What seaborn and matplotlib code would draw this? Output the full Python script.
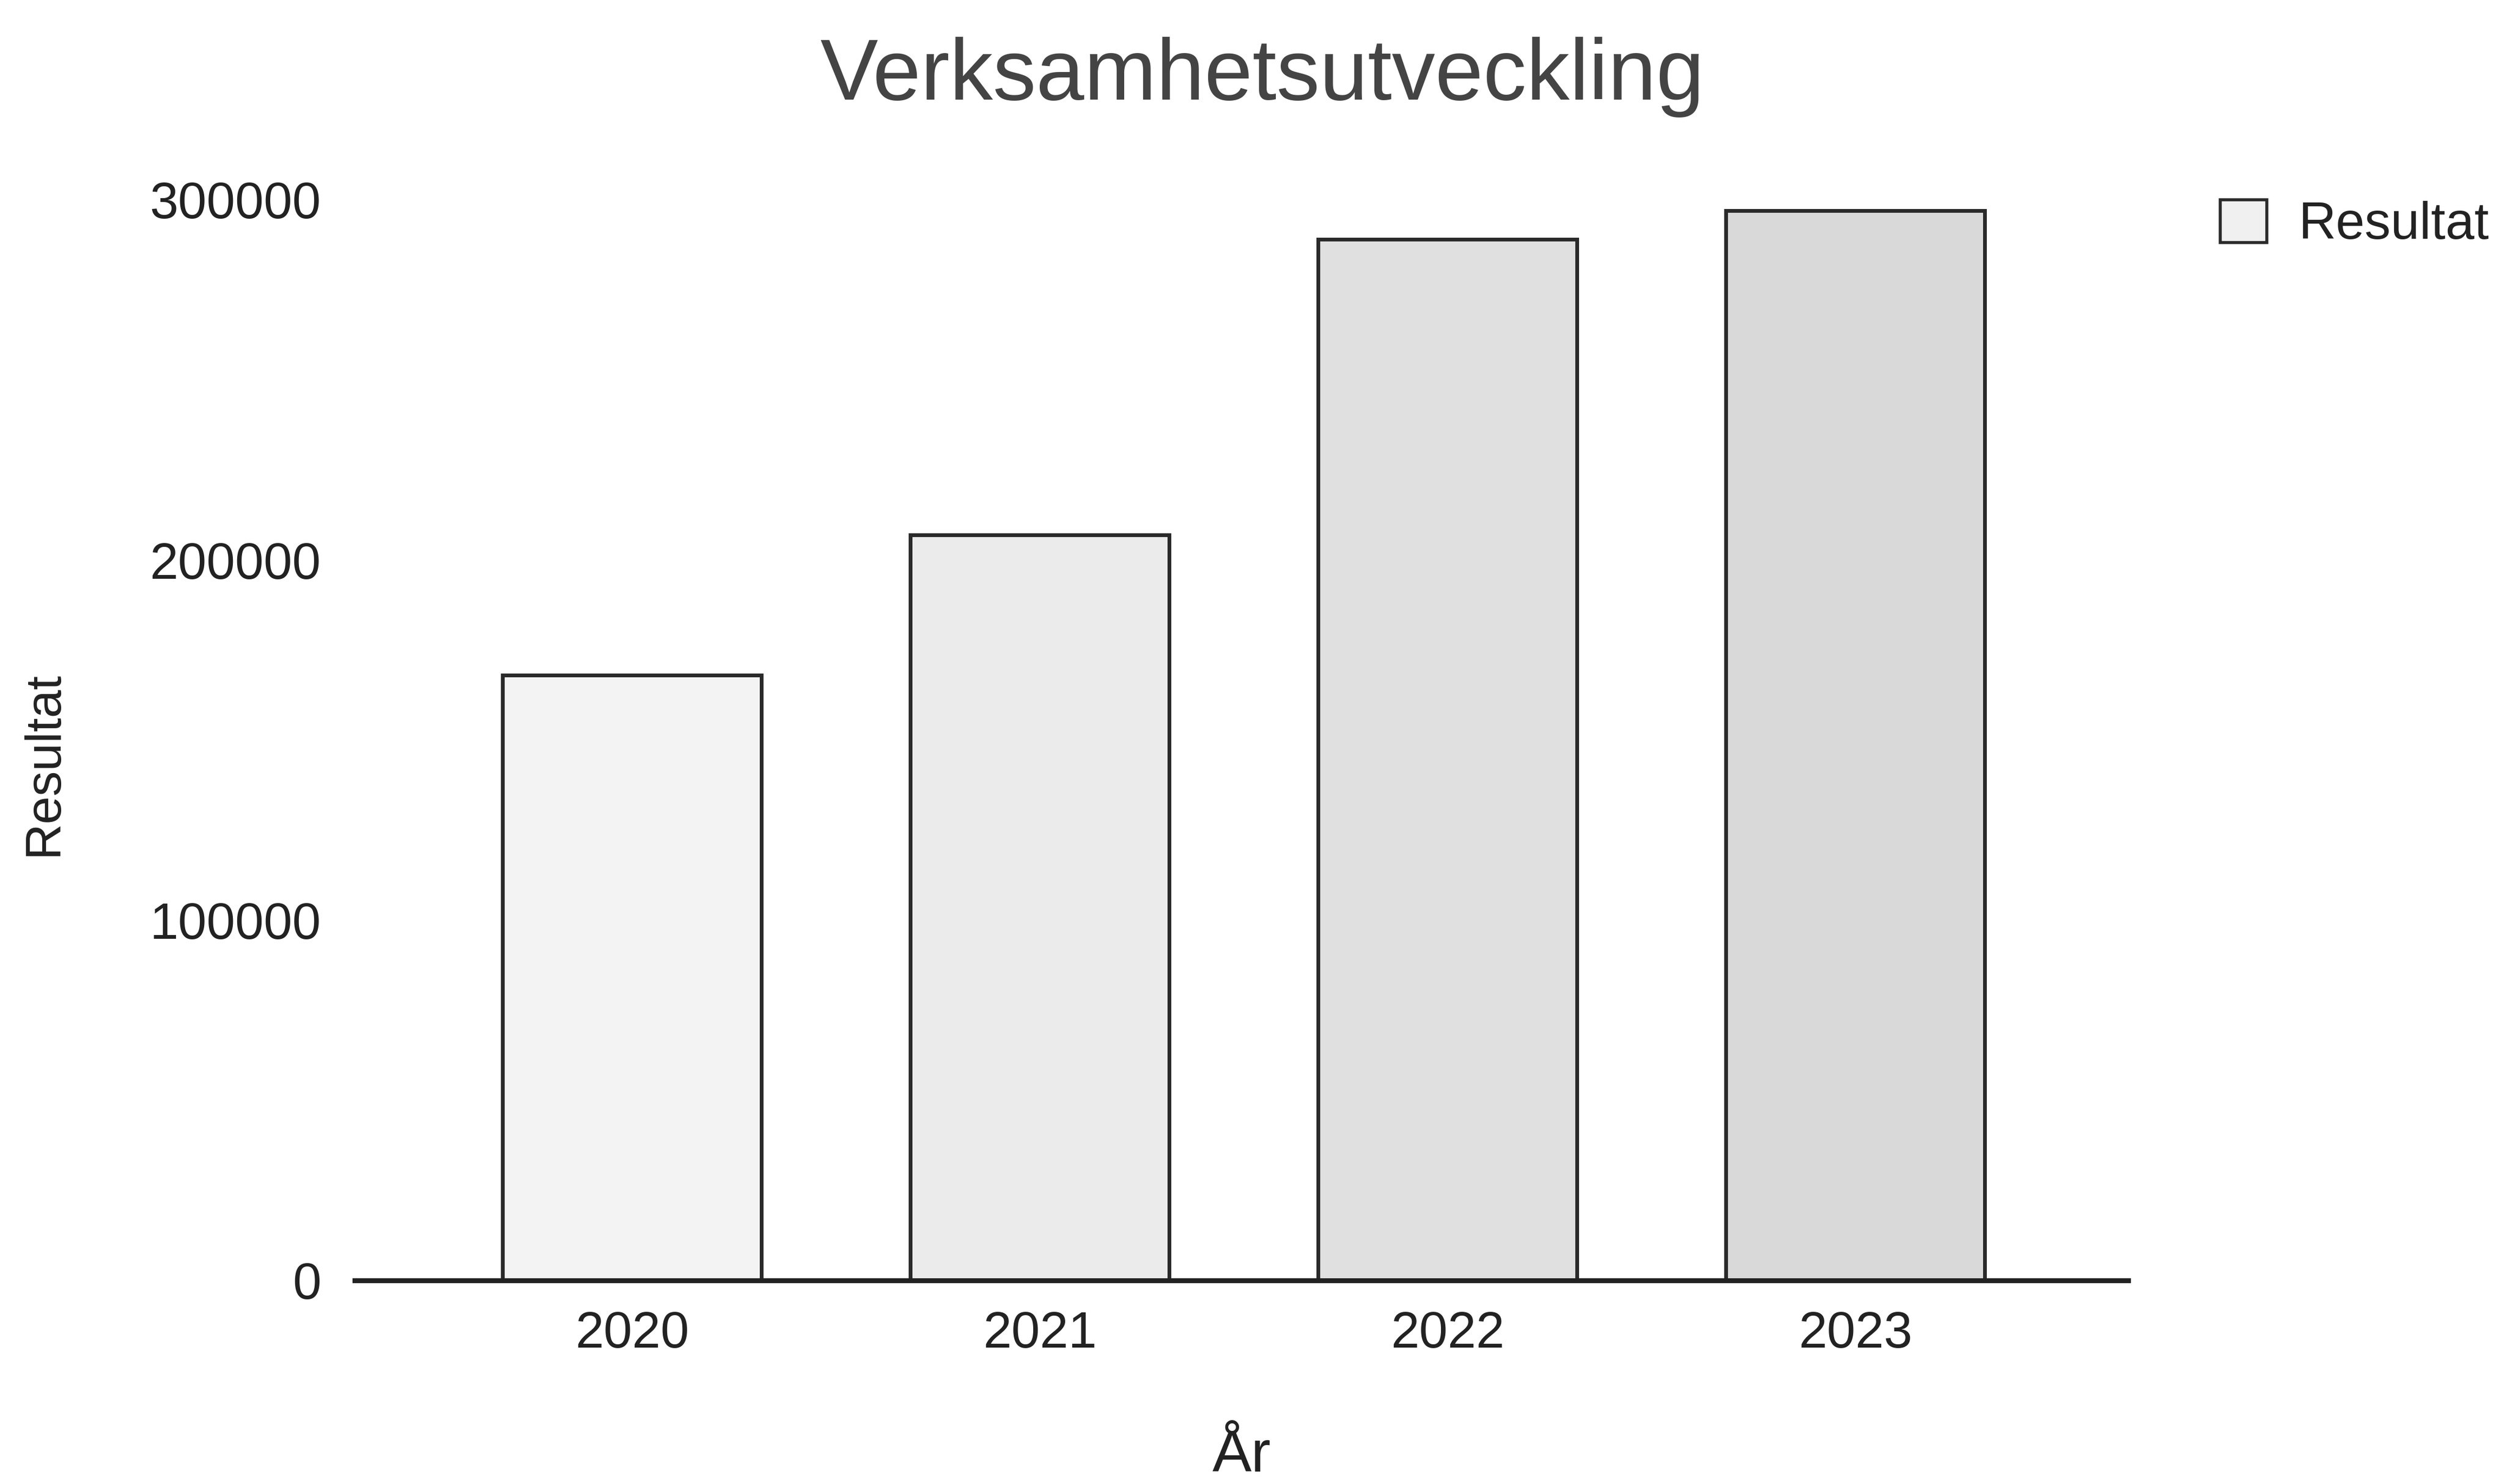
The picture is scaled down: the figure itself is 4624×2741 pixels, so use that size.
import numpy as np
import pandas as pd
import matplotlib
matplotlib.use("Agg")
import matplotlib.pyplot as plt
from matplotlib.patches import Patch
import seaborn as sns

# data
years = ["2020", "2021", "2022", "2023"]
resultat = [168000, 207000, 289000, 297000]
# the scan shows the bars getting denser/darker from left to right
bar_shades = ["#f3f3f3", "#ebebeb", "#e0e0e0", "#d9d9d9"]

sns.set_theme(style="white")
plt.rcParams['font.family'] = ['Liberation Sans', 'DejaVu Sans']

df = pd.DataFrame({"År": years, "Resultat": resultat})

fig = plt.figure(figsize=(46.24, 27.41), dpi=100)
ax = fig.add_axes([0.1417, 0.1372, 0.7083, 0.7282])

sns.barplot(data=df, x="År", y="Resultat", hue="År", palette=bar_shades,
            width=0.635, edgecolor="#2a2a2a", linewidth=5, legend=False, ax=ax)

ax.set_xlim(-0.68, 3.67)
ax.set_ylim(0, 300000)
ax.set_yticks([0, 100000, 200000, 300000])
ax.set_yticklabels(["0", "100000", "200000", "300000"])

for side in ["top", "right", "left"]:
    ax.spines[side].set_visible(False)
ax.spines["bottom"].set_color("#222222")
ax.spines["bottom"].set_linewidth(6.5)

ax.tick_params(axis="both", length=0, labelsize=68, colors="#222222")
ax.tick_params(axis="x", pad=40)
ax.tick_params(axis="y", pad=45)

# x label sits right at the bottom edge, as in the reference
ax.set_xlabel("År", fontsize=78, color="#222222")
ax.xaxis.set_label_coords(0.5, -0.138)
ax.set_ylabel("Resultat", fontsize=67, color="#222222")
ax.yaxis.set_label_coords(-0.162, 0.478)

fig.text(0.504, 0.933, "Verksamhetsutveckling", fontsize=115, color="#444444",
         ha="center", va="baseline")

handle = Patch(facecolor="#f0f0f0", edgecolor="#2a2a2a", linewidth=4, label="Resultat")
fig.legend(handles=[handle], loc="upper left", bbox_to_anchor=(0.868, 0.897),
           frameon=False, fontsize=69, handlelength=0.9, handleheight=0.9,
           handletextpad=0.6, labelcolor="#222222")

fig.savefig("out.png", dpi=100, facecolor="white")
